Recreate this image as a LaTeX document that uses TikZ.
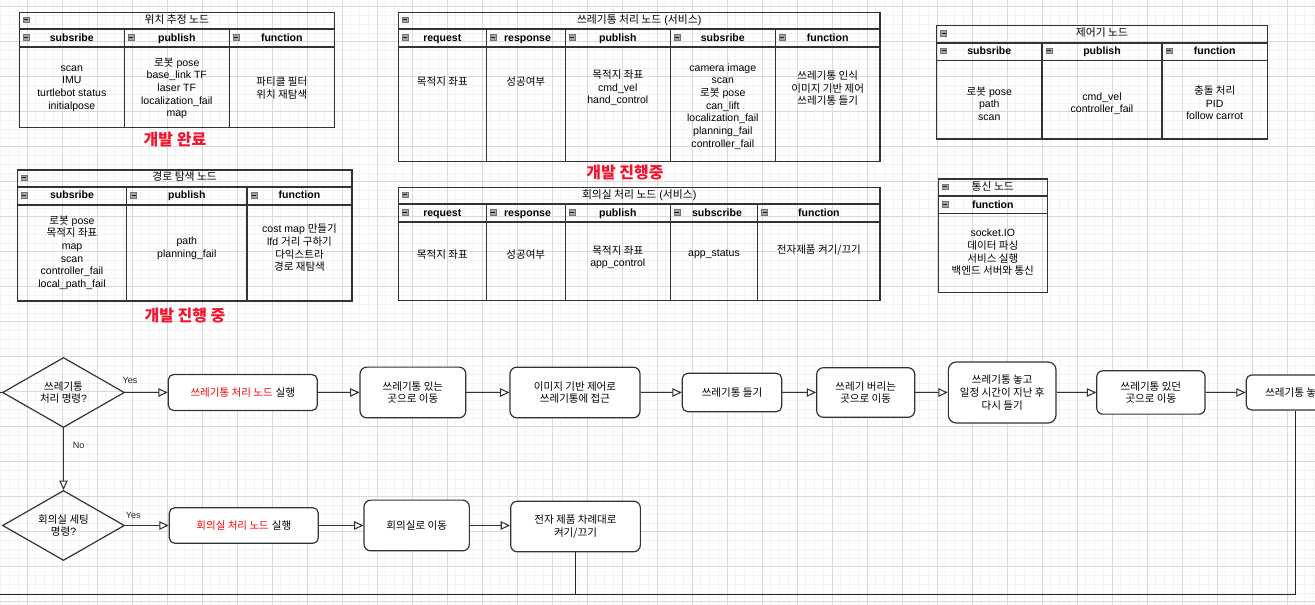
\documentclass[tikz,border=0pt]{standalone}
\usepackage{fontspec}
\setmainfont{Liberation Sans}
\newfontfamily\krfont{Noto Sans CJK KR}
\usetikzlibrary{shapes.geometric,arrows.meta}
\newcommand\K[1]{{\krfont #1}}
\definecolor{devred}{RGB}{245,20,45}
\definecolor{gridminor}{RGB}{242,242,242}
\definecolor{gridmajor}{RGB}{218,218,218}
\newcommand\fsbody{\fontsize{7.9pt}{9.5pt}\selectfont}
\newcommand\fsttl{\fontsize{8.1pt}{9.5pt}\selectfont}
\newcommand\fsnote{\fontsize{12pt}{14pt}\selectfont}
\newcommand\fslbl{\fontsize{6.8pt}{8pt}\selectfont}
\newcommand\tblframe[6]{%
  \draw[tline] (#1,#3) rectangle (#2,#6);
  \draw[tsep] (#1,#4) -- (#2,#4);
  \draw[tsep] (#1,#5) -- (#2,#5);}
\newcommand\tblcol[3]{\draw[tline] (#1,#2) -- (#1,#3);}
\newcommand\hicon[2]{\pic at ({#1+7},{#2}) {minusicon};}
\tikzset{
  minusicon/.pic={
    \draw[fill=black!35,draw=black!55,line width=0.4pt] (-3,-2.7) rectangle (3,2.7);
    \draw[black!90,line width=0.7pt] (-2,0) -- (2,0);}
}
\begin{document}
\begin{tikzpicture}[x=0.75pt,y=-0.75pt,
  tline/.style={draw=black!80,line width=0.9pt},
  tsep/.style={draw=black!80,line width=1.2pt},
  ttl/.style={font=\fsttl,inner sep=0pt,text height=6.2pt,text depth=1.6pt},
  hdr/.style={font=\fsbody\bfseries,inner sep=0pt,text height=6pt,text depth=1.6pt},
  txt/.style={font=\fsbody,align=center,inner sep=0pt},
  devnote/.style={font=\fsnote\bfseries\krfont,text=devred,inner sep=0pt},
  stepbox/.style={draw=black!80,line width=0.9pt,fill=white,rounded corners=#1,align=center,font=\fsbody,inner sep=0pt},
  stepbox/.default=4pt,
  dims/.style 2 args={minimum width=#1*0.75pt,minimum height=#2*0.75pt},
  decision/.style={diamond,aspect=1.75,draw=black!80,line width=0.9pt,align=center,font=\fsbody,inner sep=0pt,minimum width=122*0.75pt,minimum height=70*0.75pt},
  arr/.style={draw=black!80,line width=0.8pt,-{Triangle[fill=white,length=7pt,width=6.4pt]}},
  flowline/.style={draw=black!85,line width=0.8pt},
  lbl/.style={font=\fslbl,text=black!85,inner sep=0pt},
  minorgrid/.style={draw=gridminor,line width=0.75pt},
  majorgrid/.style={draw=gridmajor,line width=0.75pt}]
\useasboundingbox (0,0) rectangle (1315,605);
\clip (0,0) rectangle (1315,605);
\fill[white] (0,0) rectangle (1315,605);
% grid
\foreach \k in {0,...,155} \draw[minorgrid] ({-8+8.75*\k},0) -- ({-8+8.75*\k},605);
\foreach \k in {0,...,72} \draw[minorgrid] (0,{-28+8.75*\k}) -- (1315,{-28+8.75*\k});
\foreach \k in {0,...,38} \draw[majorgrid] ({-8+35*\k},0) -- ({-8+35*\k},605);
\foreach \k in {0,...,18} \draw[majorgrid] (0,{-28+35*\k}) -- (1315,{-28+35*\k});

% ---------- Table 1
\tblframe{19.3}{334.3}{12.3}{29.3}{47.3}{127.7}
\tblcol{124.3}{29.3}{127.7}
\tblcol{229.3}{29.3}{127.7}
\hicon{19.3}{19.5}
\hicon{19.3}{37.3}\hicon{124.3}{37.3}\hicon{229.3}{37.3}
\node[ttl] (t1t) at (176.8,20) {\K{위치 추정 노드}};
\node[hdr] (t1h1) at (71.8,38.3) {subsribe};
\node[hdr] (t1h2) at (176.8,38.3) {publish};
\node[hdr] (t1h3) at (281.8,38.3) {function};
\node[txt] (t1b1) at (71.8,88.5) {scan\\IMU\\turtlebot status\\initialpose};
\node[txt] (t1b2) at (176.8,88.5) {\K{로봇} pose\\base\_link TF\\laser TF\\localization\_fail\\map};
\node[txt] (t1b3) at (281.8,88.3) {\K{파티클 필터}\\\K{위치 재탐색}};
\node[devnote] (n1) at (175,140) {개발 완료};

% ---------- Table 2
\tblframe{398.3}{880}{12.3}{29.3}{47.3}{161.3}
\tblcol{486.3}{29.3}{161.3}
\tblcol{565.3}{29.3}{161.3}
\tblcol{670.3}{29.3}{161.3}
\tblcol{775.3}{29.3}{161.3}
\hicon{398.3}{19.5}
\hicon{398.3}{37.3}\hicon{486.3}{37.3}\hicon{565.3}{37.3}\hicon{670.3}{37.3}\hicon{775.3}{37.3}
\node[ttl] (t2t) at (639.2,20) {\K{쓰레기통 처리 노드} (\K{서비스})};
\node[hdr] (t2h1) at (442.3,38.3) {request};
\node[hdr] (t2h2) at (527.5,38.3) {response};
\node[hdr] (t2h3) at (617.8,38.3) {publish};
\node[hdr] (t2h4) at (722.8,38.3) {subsribe};
\node[hdr] (t2h5) at (827.7,38.3) {function};
\node[txt] (t2b1) at (442.3,81.7) {\K{목적지 좌표}};
\node[txt] (t2b2) at (525.8,81.7) {\K{성공여부}};
\node[txt] (t2b3) at (617.8,88) {\K{목적지 좌표}\\cmd\_vel\\hand\_control};
\node[txt] (t2b4) at (722.8,106.3) {camera image\\scan\\\K{로봇} pose\\can\_lift\\localization\_fail\\planning\_fail\\controller\_fail};
\node[txt] (t2b5) at (827.7,88.3) {\K{쓰레기통 인식}\\\K{이미지 기반 제어}\\\K{쓰레기통 들기}};
\node[devnote] (n2) at (625,172.7) {개발 진행중};

% ---------- Table 3
\tblframe{936.7}{1267.3}{25.7}{43}{60.7}{139}
\tblcol{1042}{43}{139}
\tblcol{1162}{43}{139}
\hicon{936.7}{33.3}
\hicon{936.7}{50.8}\hicon{1042}{50.8}\hicon{1162}{50.8}
\node[ttl] (t3t) at (1102,33.5) {\K{제어기 노드}};
\node[hdr] (t3h1) at (989.3,51.8) {subsribe};
\node[hdr] (t3h2) at (1102,51.8) {publish};
\node[hdr] (t3h3) at (1214.7,51.8) {function};
\node[txt] (t3b1) at (989.3,103.5) {\K{로봇} pose\\path\\scan};
\node[txt] (t3b2) at (1102,103.7) {cmd\_vel\\controller\_fail};
\node[txt] (t3b3) at (1214.7,103) {\K{충돌 처리}\\PID\\follow carrot};

% ---------- Table 4
\tblframe{938.3}{1047.3}{179}{196.3}{213.7}{292.3}
\hicon{938.3}{186.7}
\hicon{938.3}{204.2}
\node[ttl] (t4t) at (992.8,187) {\K{통신 노드}};
\node[hdr] (t4h1) at (992.8,205.3) {function};
\node[txt] (t4b1) at (992.8,252.5) {socket.IO\\\K{데이터 파싱}\\\K{서비스 실행}\\\K{백엔드 서버와 통신}};

% ---------- Table 5
\tblframe{17.3}{352}{170}{187.3}{205}{301}
\tblcol{126.7}{187.3}{301}
\tblcol{247}{187.3}{301}
\hicon{17.3}{177.7}
\hicon{17.3}{195.2}\hicon{126.7}{195.2}\hicon{247}{195.2}
\node[ttl] (t5t) at (184.7,177.5) {\K{경로 탐색 노드}};
\node[hdr] (t5h1) at (72,195.8) {subsribe};
\node[hdr] (t5h2) at (186.8,195.8) {publish};
\node[hdr] (t5h3) at (299.5,195.8) {function};
\node[txt] (t5b1) at (72,252.7) {\K{로봇} pose\\\K{목적지 좌표}\\map\\scan\\controller\_fail\\local\_path\_fail};
\node[txt] (t5b2) at (186.8,248.3) {path\\planning\_fail};
\node[txt] (t5b3) at (299.5,248) {cost map \K{만들기}\\lfd \K{거리 구하기}\\\K{다익스트라}\\\K{경로 재탐색}};
\node[devnote] (n3) at (185,315.8) {개발 진행 중};

% ---------- Table 6
\tblframe{398.3}{880}{187.3}{204.3}{222.3}{300.7}
\tblcol{486.3}{204.3}{300.7}
\tblcol{565.3}{204.3}{300.7}
\tblcol{670.3}{204.3}{300.7}
\tblcol{757.7}{204.3}{300.7}
\hicon{398.3}{194.8}
\hicon{398.3}{212.3}\hicon{486.3}{212.3}\hicon{565.3}{212.3}\hicon{670.3}{212.3}\hicon{757.7}{212.3}
\node[ttl] (t6t) at (639.2,195.5) {\K{회의실 처리 노드} (\K{서비스})};
\node[hdr] (t6h1) at (442.3,213.6) {request};
\node[hdr] (t6h2) at (527.5,213.6) {response};
\node[hdr] (t6h3) at (617.8,213.6) {publish};
\node[hdr] (t6h4) at (717,213.6) {subscribe};
\node[hdr] (t6h5) at (818.9,213.6) {function};
\node[txt] (t6b1) at (442.3,255) {\K{목적지 좌표}};
\node[txt] (t6b2) at (525.8,255) {\K{성공여부}};
\node[txt] (t6b3) at (617.8,257.3) {\K{목적지 좌표}\\app\_control};
\node[txt] (t6b4) at (714,254) {app\_status};
\node[txt] (t6b5) at (818.9,250) {\K{전자제품 켜기/끄기}};

% ---------- Flowchart row 1
\node[decision] (d1) at (63.5,392.5) {\K{쓰레기통}\\\K{처리 명령}?};
\node[stepbox,dims={149}{36}] (b1) at (242.8,392.5) {\textcolor{red}{\K{쓰레기통 처리 노드}} \K{실행}};
\node[stepbox=5pt,dims={105.7}{50.7}] (b2) at (412.9,392.5) {\K{쓰레기통 있는}\\\K{곳으로 이동}};
\node[stepbox=5pt,dims={130}{50.6}] (b3) at (575,392.5) {\K{이미지 기반 제어로}\\\K{쓰레기통에 접근}};
\node[stepbox,dims={99.4}{38.4}] (b4) at (732,392.5) {\K{쓰레기통 들기}};
\node[stepbox=5pt,dims={98}{49.6}] (b5) at (865.7,392.5) {\K{쓰레기 버리는}\\\K{곳으로 이동}};
\node[stepbox=6pt,dims={107.7}{61}] (b6) at (1002.2,392.5) {\K{쓰레기통 놓고}\\\K{일정 시간이 지난 후}\\\K{다시 들기}};
\node[stepbox=4.5pt,dims={108.3}{43.3}] (b7) at (1150.9,392.5) {\K{쓰레기통 있던}\\\K{곳으로 이동}};
\node[stepbox,dims={98.6}{35}] (b8) at (1295.5,392.5) {\K{쓰레기통 놓기}};

% ---------- Flowchart row 2
\node[decision] (d2) at (63.5,525.5) {\K{회의실 세팅}\\\K{명령}?};
\node[stepbox,dims={149}{35.6}] (b9) at (243.8,525.5) {\textcolor{red}{\K{회의실 처리 노드}} \K{실행}};
\node[stepbox=5pt,dims={105.3}{50.7}] (b10) at (416.7,525.5) {\K{회의실로 이동}};
\node[stepbox=5pt,dims={129.7}{50.6}] (b11) at (575.5,526.5) {\K{전자 제품 차례대로}\\\K{켜기/끄기}};

% connectors
\coordinate (cin) at (-5,392.5);
\draw[flowline] (cin) -- (d1.west);
\draw[arr] (d1) -- (b1);
\draw[arr] (b1) -- (b2);
\draw[arr] (b2) -- (b3);
\draw[arr] (b3) -- (b4);
\draw[arr] (b4) -- (b5);
\draw[arr] (b5) -- (b6);
\draw[arr] (b6) -- (b7);
\draw[arr] (b7) -- (b8);
\draw[arr] (d1) -- (d2);
\draw[arr] (d2) -- (b9);
\draw[arr] (b9) -- (b10);
\draw[arr] (b10.east) -- (b11.west |- b10.east);
\coordinate (cb8) at (1295.5,594.5);
\coordinate (cleft) at (-5,594.5);
\draw[flowline] (b8.south) -- (cb8) -- (cleft);
\draw[flowline] (b11.south) -- (b11.south |- cb8);

\node[lbl] (y1) at (130,380.7) {Yes};
\node[lbl] (y2) at (133.3,515.7) {Yes};
\node[lbl] (no1) at (78.7,445.7) {No};
\end{tikzpicture}
\end{document}
